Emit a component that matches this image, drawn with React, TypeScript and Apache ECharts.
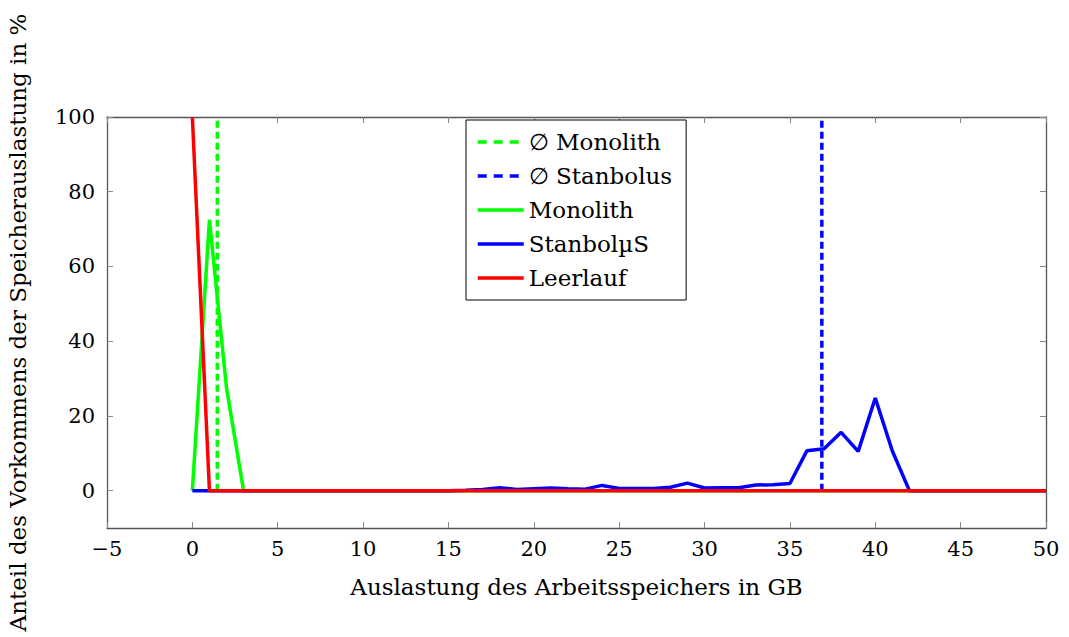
import React, { useEffect, useRef } from "react";
import * as echarts from "echarts";

const monolithX = [0, 1, 2, 3, 50];
const monolithY = [0, 72.5, 27.5, 0, 0];

const stanbolusX = [0, 1, 2, 3, 4, 5, 6, 7, 8, 9, 10, 11, 12, 13, 14, 15, 16, 17, 18, 19, 20, 21, 22, 23, 24, 25, 26, 27, 28, 29, 30, 31, 32, 33, 34, 35, 36, 37, 38, 39, 40, 41, 42, 50];
const stanbolusY = [0, 0, 0, 0, 0, 0, 0, 0, 0, 0, 0, 0, 0, 0, 0, 0, 0.1, 0.3, 0.8, 0.3, 0.5, 0.7, 0.5, 0.4, 1.4, 0.6, 0.6, 0.6, 0.9, 2.0, 0.7, 0.8, 0.8, 1.5, 1.6, 1.9, 10.7, 11.2, 15.6, 10.5, 24.8, 10.6, 0, 0];

const leerlaufX = [0, 1, 50];
const leerlaufY = [100, 0, 0];

const avgMonolith = 1.46;
const avgStanbolus = 36.87;

const seriesNames = ["∅ Monolith", "∅ Stanbolus", "Monolith", "StanbolµS", "Leerlauf"];

const xTicks = { min: -5, max: 50, interval: 5 };
const yRange = { min: -10, max: 100 };
const yTickValues = [0, 20, 40, 60, 80, 100];

const FONT = "'DejaVu Serif', 'Liberation Serif', serif";
const FS_TICK = 21;
const FS_TEXT = 23;

function pairs(xs: number[], ys: number[]) {
  return xs.map((x, i) => [x, ys[i]]);
}

export default function App() {
  const ref = useRef<HTMLDivElement>(null);
  useEffect(() => {
    if (!ref.current) return;
    const chart = echarts.init(ref.current, null, { renderer: "svg" });
    const minus = (v: number) => String(v).replace("-", "\u2212");
    const tickStyle = { show: true, inside: true, length: 6, lineStyle: { color: "#888", width: 1 } };
    const axisLine = { show: true, onZero: false, lineStyle: { color: "#555", width: 1.3 } };
    const dashLegend = { type: [9, 7], width: 3.5 };
    const solidLegend = { type: "solid", width: 3.5 };
    chart.setOption({
      animation: false,
      backgroundColor: "#fff",
      textStyle: { fontFamily: FONT },
      grid: { left: 107, right: 23, top: 117, bottom: 109, containLabel: false, outerBoundsMode: "none" },
      legend: {
        orient: "vertical",
        left: 466,
        top: 120,
        data: [
          { name: seriesNames[0], lineStyle: dashLegend },
          { name: seriesNames[1], lineStyle: dashLegend },
          { name: seriesNames[2], lineStyle: solidLegend },
          { name: seriesNames[3], lineStyle: solidLegend },
          { name: seriesNames[4], lineStyle: solidLegend },
        ],
        itemWidth: 46,
        itemHeight: 14,
        itemGap: 10,
        padding: [10, 14, 10, 10],
        borderColor: "#000",
        borderWidth: 1,
        backgroundColor: "#fff",
        itemStyle: { opacity: 0, borderWidth: 0 },
        textStyle: { fontFamily: FONT, fontSize: FS_TEXT, lineHeight: 24, color: "#000" },
      },
      xAxis: [
        {
          type: "value",
          min: xTicks.min,
          max: xTicks.max,
          interval: xTicks.interval,
          name: "Auslastung des Arbeitsspeichers in GB",
          nameLocation: "middle",
          nameGap: 47,
          nameTextStyle: { fontFamily: FONT, fontSize: FS_TEXT, color: "#000" },
          axisLine,
          axisTick: tickStyle,
          axisLabel: { fontFamily: FONT, fontSize: FS_TICK, color: "#000", margin: 10, formatter: minus },
          splitLine: { show: false },
        },
        {
          type: "value",
          position: "top",
          min: xTicks.min,
          max: xTicks.max,
          interval: xTicks.interval,
          axisLine,
          axisTick: tickStyle,
          axisLabel: { show: false },
          splitLine: { show: false },
        },
      ],
      yAxis: [
        {
          type: "value",
          min: yRange.min,
          max: yRange.max,
          name: "Anteil des Vorkommens der Speicherauslastung in %",
          nameLocation: "middle",
          nameGap: 78,
          nameTextStyle: { fontFamily: FONT, fontSize: FS_TEXT, color: "#000" },
          axisLine,
          axisTick: { ...tickStyle, customValues: yTickValues },
          axisLabel: {
            fontFamily: FONT,
            fontSize: FS_TICK,
            color: "#000",
            margin: 12,
            customValues: yTickValues,
            formatter: minus,
          },
          splitLine: { show: false },
        },
        {
          type: "value",
          position: "right",
          min: yRange.min,
          max: yRange.max,
          axisLine,
          axisTick: { ...tickStyle, customValues: yTickValues },
          axisLabel: { show: false, customValues: yTickValues },
          splitLine: { show: false },
        },
      ],
      series: [
        {
          name: seriesNames[0],
          type: "line",
          showSymbol: false,
          symbol: "none",
          data: [[avgMonolith, 0], [avgMonolith, 100]],
          lineStyle: { color: "#00ff00", width: 3.5, type: [7, 4] },
          itemStyle: { color: "#00ff00" },
        },
        {
          name: seriesNames[1],
          type: "line",
          showSymbol: false,
          symbol: "none",
          data: [[avgStanbolus, 0], [avgStanbolus, 100]],
          lineStyle: { color: "#0000ff", width: 3.5, type: [7, 4] },
          itemStyle: { color: "#0000ff" },
        },
        {
          name: seriesNames[2],
          type: "line",
          showSymbol: false,
          symbol: "none",
          data: pairs(monolithX, monolithY),
          lineStyle: { color: "#00ff00", width: 3.5 },
          itemStyle: { color: "#00ff00" },
        },
        {
          name: seriesNames[3],
          type: "line",
          showSymbol: false,
          symbol: "none",
          data: pairs(stanbolusX, stanbolusY),
          lineStyle: { color: "#0000ff", width: 3.5 },
          itemStyle: { color: "#0000ff" },
        },
        {
          name: seriesNames[4],
          type: "line",
          showSymbol: false,
          symbol: "none",
          data: pairs(leerlaufX, leerlaufY),
          lineStyle: { color: "#ff0000", width: 3.5 },
          itemStyle: { color: "#ff0000" },
        },
      ],
    });
    return () => chart.dispose();
  }, []);
  return (
    <div
      ref={ref}
      style={{ position: "fixed", left: 0, top: 0, width: 1069, height: 637, background: "#fff" }}
    />
  );
}
